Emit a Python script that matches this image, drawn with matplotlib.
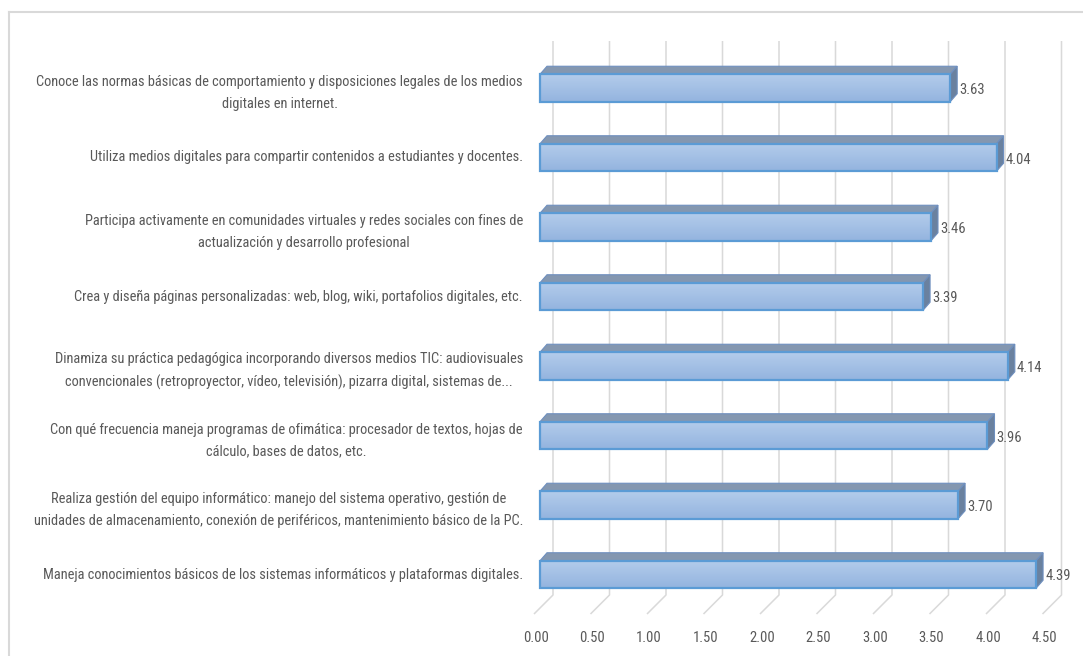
import matplotlib.pyplot as plt
import numpy as np
from matplotlib import font_manager
from matplotlib.patches import Polygon, Rectangle
from matplotlib.lines import Line2D
from matplotlib.colors import LinearSegmentedColormap

categories = [
    "Maneja conocimientos básicos de los sistemas informáticos y plataformas digitales.",
    "Realiza gestión del equipo informático: manejo del sistema operativo, gestión de\nunidades de almacenamiento, conexión de periféricos, mantenimiento básico de la PC.",
    "Con qué frecuencia maneja programas de ofimática: procesador de textos, hojas de\ncálculo, bases de datos, etc.",
    "Dinamiza su práctica pedagógica incorporando diversos medios TIC: audiovisuales\nconvencionales (retroproyector, vídeo, televisión), pizarra digital, sistemas de...",
    "Crea y diseña páginas personalizadas: web, blog, wiki, portafolios digitales, etc.",
    "Participa activamente en comunidades virtuales y redes sociales con fines de\nactualización y desarrollo profesional",
    "Utiliza medios digitales para compartir contenidos a estudiantes y docentes.",
    "Conoce las normas básicas de comportamiento y disposiciones legales de los medios\ndigitales en internet.",
]
values = [4.39, 3.70, 3.96, 4.14, 3.39, 3.46, 4.04, 3.63]
ticks = [0.0, 0.5, 1.0, 1.5, 2.0, 2.5, 3.0, 3.5, 4.0, 4.5]

W, H = 1083, 656
PXU = 113.0      # px per value unit
PYU = 69.5       # px per category
X0 = 540.0       # px of value 0 (bar front)
Y0 = 574.5       # px from top of bottom bar centre
GRAY = '#595959'

# pick a narrow font if one is installed
fonts = font_manager.fontManager.ttflist
names = {f.name for f in fonts}
FONT = ['DejaVu Sans']
STRETCH = 'normal'
for cand in ['Liberation Sans Narrow', 'Roboto Condensed', 'Open Sans Condensed',
             'Noto Sans Condensed', 'Arial Narrow']:
    if cand in names:
        FONT = [cand, 'DejaVu Sans']
        break
else:
    cond = [f for f in fonts if f.name in ('Noto Sans', 'Open Sans', 'Roboto')
            and str(f.stretch) in ('condensed', 'semi-condensed', '500', '600', '700')
            and f.weight in (400, 'normal', 'regular')]
    if cond:
        FONT = [cond[0].name, 'DejaVu Sans']
        STRETCH = cond[0].stretch
    elif 'Liberation Sans' in names:
        FONT = ['Liberation Sans', 'DejaVu Sans']

fig = plt.figure(figsize=(W / 100, H / 100), dpi=100)

# size labels so the longest single line is ~480 px wide, like the reference
r = fig.canvas.get_renderer()
probe = fig.text(0, 0, categories[0], fontsize=10, family=FONT, stretch=STRETCH)
wpx = probe.get_window_extent(r).width
probe.remove()
lab_fs = min(10.5, 10 * 480 / wpx)
num_fs = min(10.5, lab_fs * 1.02)

xmin, xmax = -0.2, (W - X0) / PXU
ymin, ymax = -(H - Y0) / PYU, Y0 / PYU
ax = fig.add_axes([(X0 + xmin * PXU) / W, 0, (xmax - xmin) * PXU / W, 1])
ax.set_xlim(xmin, xmax)
ax.set_ylim(ymin, ymax)
ax.axis('off')

# chart frame (top and left only visible)
fig.add_artist(Line2D([8.5 / W, 1.0], [1 - 12 / H, 1 - 12 / H], color='#D9D9D9', lw=1.5))
fig.add_artist(Line2D([8.5 / W, 8.5 / W], [0, 1 - 12 / H], color='#D9D9D9', lw=1.5))

# gridlines on back wall + floor diagonals
gback = 13 / PXU
gfront = -6 / PXU
gtop = (Y0 - 41) / PYU
gbot = (Y0 - 595) / PYU
gfloor = (Y0 - 614) / PYU
for t in ticks:
    ax.plot([t + gback, t + gback, t + gfront], [gtop, gbot, gfloor],
            color='#D9D9D9', lw=1.1, solid_capstyle='butt', zorder=1)
    ax.text(t - 4 / PXU, (Y0 - 638) / PYU, f"{t:.2f}", ha='center', va='center',
            fontsize=num_fs, color=GRAY, family=FONT, stretch=STRETCH)

# 3D bars
h = 27.5 / PYU
dx = 7 / PXU
dy = 8 / PYU
edge = '#5B9BD5'
grad = np.linspace(0, 1, 64).reshape(-1, 1)
cmap = LinearSegmentedColormap.from_list('g', ['#B3CCEB', '#94B4DF'])
for i, (lab, v) in enumerate(zip(categories, values)):
    y = i
    yb, yt = y - h / 2, y + h / 2
    ax.imshow(grad, cmap=cmap, extent=[0, v, yb, yt], aspect='auto',
              origin='upper', zorder=2)
    ax.add_patch(Polygon([(0, yt), (v, yt), (v + dx, yt + dy), (dx, yt + dy)],
                         closed=True, fc='#8497B0', ec='#6E8FBF', lw=0.8, zorder=3))
    ax.add_patch(Polygon([(v, yb), (v + dx, yb + dy), (v + dx, yt + dy), (v, yt)],
                         closed=True, fc='#6A819F', ec='#6E8FBF', lw=0.8, zorder=3))
    ax.add_patch(Rectangle((0, yb), v, h, fill=False, ec=edge, lw=1.6, zorder=4))
    ax.text(v + dx + 2 / PXU, y - 2 / PYU, f"{v:.2f}", ha='left', va='center',
            fontsize=num_fs, color=GRAY, family=FONT, stretch=STRETCH, zorder=5)
    off = -5 / PYU if '\n' in lab else 0
    ax.text(-17 / PXU, y + off, lab, ha='right', va='center', multialignment='center',
            fontsize=lab_fs, color=GRAY, family=FONT, stretch=STRETCH, linespacing=1.65)

ax.set_xlim(xmin, xmax)
ax.set_ylim(ymin, ymax)
fig.savefig('out.png', dpi=100)
